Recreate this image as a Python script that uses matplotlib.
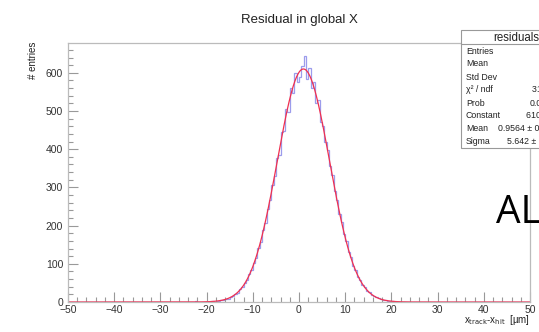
import numpy as np
import matplotlib
matplotlib.use("Agg")
import matplotlib.pyplot as plt
from matplotlib.patches import Rectangle
from matplotlib.ticker import MultipleLocator

# histogram: 0.5 um bins from -50 to 50, the filled part starts at -20
bin_width = 0.5
x_min, x_max = -50.0, 50.0
core_start = -20.0
core_counts = [
    1, 0, 2, 1, 3, 2, 5, 6, 8, 9,
    13, 15, 21, 24, 33, 38, 50, 57, 72, 83,
    103, 116, 141, 158, 188, 208, 244, 266, 305, 330,
    378, 385, 445, 448, 505, 498, 560, 548, 600, 575,
    590, 618, 645, 585, 612, 560, 575, 522, 528, 470,
    462, 420, 398, 355, 332, 290, 268, 230, 210, 178,
    160, 132, 118, 95, 84, 66, 58, 45, 40, 30,
    26, 19, 16, 12, 10, 7, 6, 4, 3, 2,
    2, 1, 1, 1,
]
# single stray entries in the tails
tail_x = [-36.25, -31.75, -27.25, -24.75, -22.25, 23.75, 26.25, 31.25]
tail_counts = [1, 1, 1, 1, 2, 1, 1, 1]

# gaussian fit parameters (stats box)
fit_const = 610.0
fit_mean = 0.9564
fit_sigma = 5.642

stat_labels = ["Entries", "Mean", "Std Dev", "\u03c7\u00b2 / ndf", "Prob",
               "Constant", "Mean", "Sigma"]
stat_values = ["17254", "0.9613", "5.672", "312.4 / 197", "0.0000",
               "610.2 \u00b1 5.8", "0.9564 \u00b1 0.0436", "5.642 \u00b1 0.032"]

W, H = 539, 332
plt.rcParams['font.family'] = ['Liberation Sans', 'DejaVu Sans']
fig = plt.figure(figsize=(W / 100, H / 100), dpi=100)
ax = fig.add_axes([68 / W, 1 - 302 / H, (530 - 68) / W, (302 - 43) / H])

def fx(px):
    return px / W

def fy(py):
    return 1 - py / H

edges = np.arange(x_min, x_max + bin_width / 2, bin_width)
counts = np.zeros(len(edges) - 1)
i0 = int(round((core_start - x_min) / bin_width))
counts[i0:i0 + len(core_counts)] = core_counts
for tx, tc in zip(tail_x, tail_counts):
    counts[int((tx - x_min) // bin_width)] += tc

ax.stairs(counts, edges, color='#9c9cec', lw=0.9)

xf = np.linspace(x_min, x_max, 1000)
ax.plot(xf, fit_const * np.exp(-0.5 * ((xf - fit_mean) / fit_sigma) ** 2),
        color='#f03050', lw=0.9)

ax.set_xlim(x_min, x_max)
ax.set_ylim(0, 678)
ax.xaxis.set_major_locator(MultipleLocator(10))
ax.xaxis.set_minor_locator(MultipleLocator(2))
ax.yaxis.set_major_locator(MultipleLocator(100))
ax.yaxis.set_minor_locator(MultipleLocator(20))
ax.tick_params(which='both', direction='in', colors='#999999',
               labelcolor='#333333', labelsize=7.5, width=0.8)
ax.tick_params(which='major', length=7)
ax.tick_params(which='minor', length=3.5)
ax.tick_params(axis='x', pad=2)
for s in ax.spines.values():
    s.set_color('#bbbbbb')
    s.set_linewidth(0.9)

fig.text(fx(299), fy(20), "Residual in global X", ha='center', va='center',
         fontsize=9.5, color='#222222')
fig.text(fx(33), fy(42), "# entries", rotation=90, ha='center', va='top',
         fontsize=7, color='#222222')
fig.text(fx(530), fy(320), r"x$_{\mathrm{track}}$-x$_{\mathrm{hit}}$  [" + "\u00b5m]",
         ha='right', va='center', fontsize=7, color='#222222')

# stats box, cut off at the right edge of the picture
box = Rectangle((fx(461), fy(148)), fx(620) - fx(461), fy(30) - fy(148),
                transform=fig.transFigure, facecolor='white',
                edgecolor='#999999', lw=0.8, zorder=5)
fig.patches.append(box)
fig.lines.append(plt.Line2D([fx(461), fx(620)], [fy(44), fy(44)],
                            transform=fig.transFigure, color='#999999', lw=0.8,
                            zorder=6))
fig.text(fx(493), fy(38), "residualsX", fontsize=8.3, va='center', ha='left',
         color='#222222', zorder=7)
row_y = [51, 64, 77, 90, 103, 116, 129, 142]
val_x = [560, 560, 560, 532, 530, 526, 498, 507]
for lab, val, yy, vx in zip(stat_labels, stat_values, row_y, val_x):
    fig.text(fx(466), fy(yy), lab, fontsize=6.3, va='center', ha='left',
             color='#222222', zorder=7)
    fig.text(fx(vx), fy(yy), val, fontsize=6.3, va='center', ha='left',
             color='#222222', zorder=7)

fig.text(fx(496), fy(213), "ALICE", fontsize=28, va='center', ha='left',
         family=['Open Sans', 'DejaVu Sans'], color='black')

fig.savefig("out.png", dpi=100)
